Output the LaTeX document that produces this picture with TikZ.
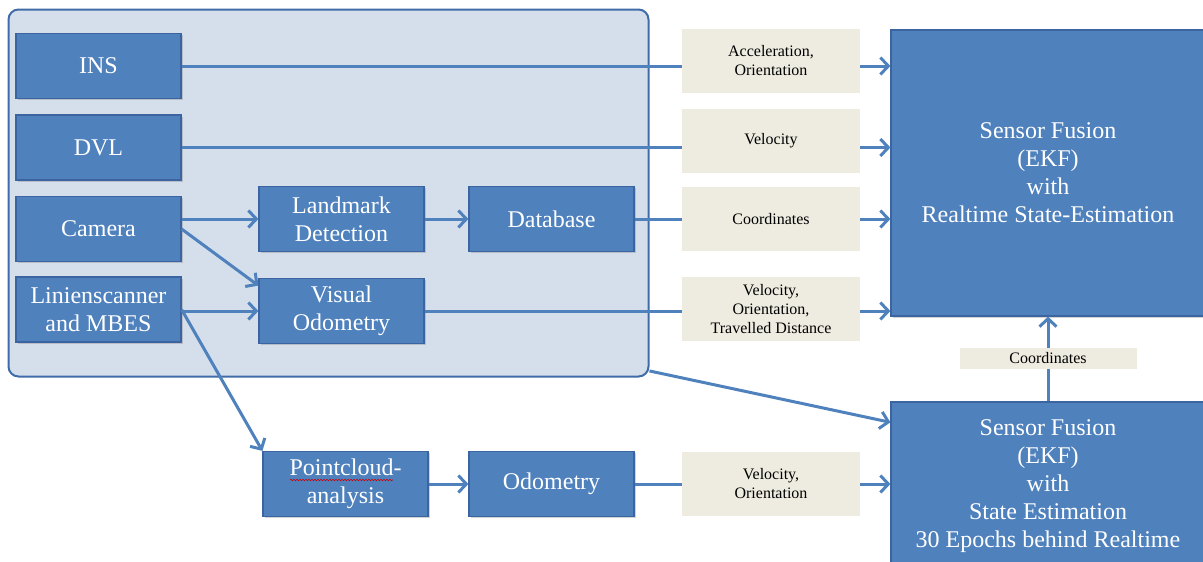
\documentclass[tikz,border=0pt]{standalone}
\usepackage{fontspec}
\setmainfont{Liberation Serif}
\usetikzlibrary{arrows.meta,shadows,decorations.pathmorphing}

\definecolor{boxblue}{HTML}{4F81BD}
\definecolor{boxedge}{HTML}{3B64A0}
\definecolor{groupfill}{HTML}{D5DFEC}
\definecolor{groupedge}{HTML}{3F6CA8}
\definecolor{tagfill}{HTML}{EEECE1}

\tikzset{
  block/.style={draw=boxedge, line width=1.2pt, fill=boxblue, text=white, align=center,
    minimum width=165pt, minimum height=65pt, inner sep=2pt,
    font=\fontsize{24}{28}\selectfont,
    drop shadow={opacity=0.35, shadow xshift=1.5pt, shadow yshift=-1.5pt}},
  fusion/.style={block, minimum width=314pt, font=\fontsize{24}{28}\selectfont},
  tag/.style={fill=tagfill, align=center, minimum width=178pt, minimum height=64pt,
    inner sep=2pt, font=\fontsize{16}{19}\selectfont},
  group/.style={draw=groupedge, line width=2pt, fill=groupfill, rounded corners=10pt,
    minimum width=640pt, minimum height=367pt},
  flow/.style={draw=boxblue, line width=3pt, -{Straight Barb[length=8pt,width=17pt]}}
}

\begin{document}
\begin{tikzpicture}[x=1pt,y=-1pt]
\useasboundingbox (0,0) rectangle (1203,562);

% Sensor group
\node[group] (sensors) at (328.5,193) {};

% Sensors
\node[block] (ins) at (98.5,66) {INS};
\node[block] (dvl) at (98.5,147.5) {DVL};
\node[block] (cam) at (98.5,229) {Camera};
\node[block] (lin) at (98.5,309.5) {Linienscanner\\and MBES};

% Processing
\node[block] (lmk) at (341.5,219) {Landmark\\Detection};
\node[block] (db) at (551.5,219) {Database};
\node[block] (vo) at (341.5,311) {Visual\\Odometry};
\node[block] (pc) at (345.5,484) {Pointcloud-\\analysis};
\node[block] (odo) at (551.5,484) {Odometry};
\draw[red!80!black, line width=0.6pt, decorate,
  decoration={snake, amplitude=0.7pt, segment length=3pt}] (290,480) -- (393,480);

% Fusion
\node[fusion, minimum height=286pt] (fus) at (1048,173)
  {Sensor Fusion\\(EKF)\\with\\Realtime State-Estimation};
\node[fusion, minimum height=168pt] (fus2) at (1048,486)
  {Sensor Fusion\\(EKF)\\with\\State Estimation\\30 Epochs behind Realtime};

% Connectors
\draw[flow] (ins.east) -- (ins.east -| fus.west);
\draw[flow] (dvl.east) -- (dvl.east -| fus.west);
\draw[flow] (db.east) -- (db.east -| fus.west);
\draw[flow] (vo.east) -- (vo.east -| fus.west);
\draw[flow] (cam.east |- lmk.west) -- (lmk.west);
\draw[flow] (lmk.east) -- (db.west);
\draw[flow] (cam.east) -- (vo.163);
\draw[flow] (lin.east |- vo.west) -- (vo.west);
\draw[flow] (lin.east) -- (pc.north west);
\draw[flow] (sensors.-29) -- (fus2.158);
\draw[flow] (pc.east) -- (odo.west);
\draw[flow] (odo.east) -- (odo.east -| fus2.west);
\draw[flow] (fus2.north) -- (fus.south);

% Labels on the connectors
\node[tag] (tacc) at (771,61) {Acceleration,\\Orientation};
\node[tag] (tvel) at (771,140.5) {Velocity};
\node[tag] (tcoord) at (771,219) {Coordinates};
\node[tag] (tvo) at (771,309) {Velocity,\\Orientation,\\Travelled Distance};
\node[tag] (todo) at (771,483.5) {Velocity,\\Orientation};
\node[tag, minimum width=177pt, minimum height=21pt] (tcoord2) at (1048,358.5) {Coordinates};

\end{tikzpicture}
\end{document}
